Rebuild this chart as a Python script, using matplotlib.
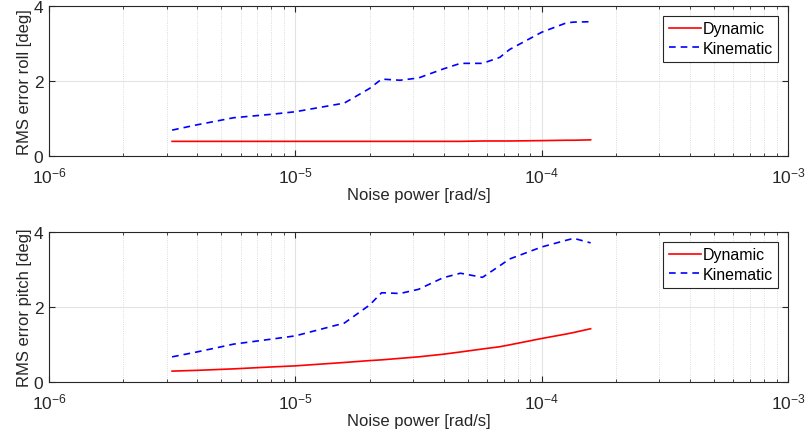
import numpy as np
import matplotlib
matplotlib.use("Agg")
import matplotlib.pyplot as plt
from matplotlib.ticker import LogLocator, NullFormatter

plt.rcParams['font.family'] = ['Liberation Sans', 'DejaVu Sans']
plt.rcParams['mathtext.fontset'] = 'custom'
plt.rcParams['mathtext.rm'] = 'Liberation Sans'

# noise power levels [rad/s]
noise = [3.16e-6, 3.98e-6, 5.62e-6, 7.94e-6, 1.0e-5, 1.58e-5, 2.0e-5,
         2.24e-5, 2.66e-5, 3.16e-5, 3.98e-5, 4.68e-5, 5.75e-5, 6.76e-5,
         7.41e-5, 1.0e-4, 1.26e-4, 1.35e-4, 1.58e-4]

# RMS roll error [deg]
roll_dynamic = [0.39, 0.39, 0.39, 0.39, 0.39, 0.39, 0.39, 0.39, 0.39,
                0.39, 0.39, 0.39, 0.40, 0.40, 0.40, 0.41, 0.42, 0.42, 0.43]
roll_kinematic = [0.69, 0.83, 1.02, 1.11, 1.18, 1.41, 1.80, 2.05, 2.02,
                  2.08, 2.32, 2.47, 2.47, 2.63, 2.84, 3.30, 3.55, 3.57, 3.58]

# RMS pitch error [deg]
pitch_dynamic = [0.29, 0.31, 0.35, 0.40, 0.43, 0.52, 0.57, 0.59, 0.63,
                 0.67, 0.74, 0.80, 0.88, 0.94, 0.99, 1.16, 1.28, 1.32, 1.42]
pitch_kinematic = [0.67, 0.80, 1.01, 1.14, 1.23, 1.57, 2.05, 2.38, 2.36,
                   2.47, 2.78, 2.90, 2.79, 3.10, 3.28, 3.60, 3.78, 3.83, 3.71]

fig = plt.figure(figsize=(8.05, 4.39), dpi=100)
ax1 = fig.add_axes([0.0609, 0.6424, 0.918, 0.3417])
ax2 = fig.add_axes([0.0609, 0.1276, 0.918, 0.3417])

panels = [(ax1, roll_dynamic, roll_kinematic, 'RMS error roll [deg]'),
          (ax2, pitch_dynamic, pitch_kinematic, 'RMS error pitch [deg]')]

edge = '#262626'
for ax, dyn, kin, ylab in panels:
    ax.plot(noise, dyn, color='red', lw=1.2, label='Dynamic')
    ax.plot(noise, kin, color='blue', lw=1.2, dashes=(4, 3), label='Kinematic')
    ax.set_xscale('log')
    ax.set_xlim(1e-6, 1e-3)
    ax.set_ylim(0, 4)
    ax.set_yticks([0, 2, 4])
    ax.xaxis.set_major_locator(LogLocator(base=10, numticks=10))
    ax.xaxis.set_minor_locator(LogLocator(base=10, subs=np.arange(2, 10), numticks=10))
    ax.xaxis.set_minor_formatter(NullFormatter())
    ax.grid(True, which='major', color='#e3e3e3', lw=0.8)
    ax.grid(True, which='minor', axis='x', color='#d0d0d0', lw=0.6, ls=':')
    ax.set_axisbelow(True)
    ax.tick_params(which='both', direction='in', top=True, right=True,
                   colors=edge, labelsize=12.5, pad=4)
    ax.tick_params(which='major', length=4, width=0.8)
    ax.tick_params(which='minor', length=2, width=0.6)
    ax.tick_params(axis='x', pad=7)
    for s in ax.spines.values():
        s.set_color(edge)
        s.set_linewidth(0.8)
    ax.set_xlabel('Noise power [rad/s]', fontsize=12, color=edge, labelpad=1)
    ax.set_ylabel(ylab, fontsize=12, color=edge, labelpad=1)
    leg = ax.legend(loc='upper right', fontsize=11.5, fancybox=False,
                    framealpha=1, edgecolor=edge, borderpad=0.35,
                    handlelength=2.0, handletextpad=0.12, labelspacing=0.3,
                    borderaxespad=0.6)
    leg.get_frame().set_linewidth(0.8)

fig.savefig('out.png', dpi=100)
